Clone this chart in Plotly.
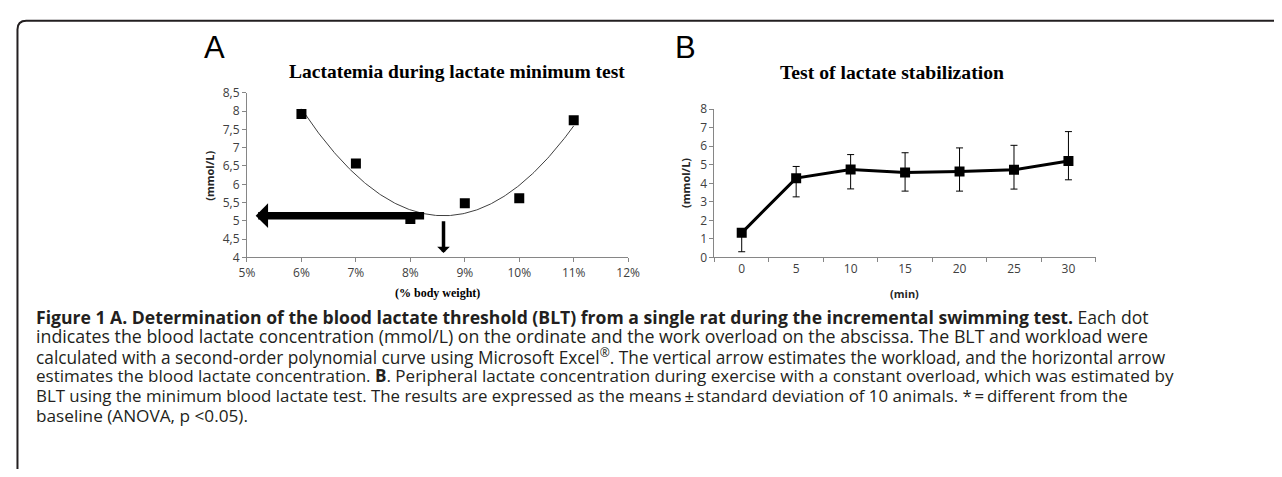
import numpy as np
import plotly.graph_objects as go

# The page body keeps its default 8 px margin, so the figure is sized to
# fill the 1282x477 window exactly; all positions below are window pixels.
PAGE_W, PAGE_H = 1282, 477
BODY = 8
W, H = PAGE_W - 2 * BODY, PAGE_H - 2 * BODY

# ---------------- data ----------------
# Panel A: lactate minimum test (single rat)
workload_pct = [6, 7, 8, 9, 10, 11]
lactate_a = [7.92, 6.57, 5.05, 5.48, 5.62, 7.75]
h_arrow_tail_x = 8.28   # horizontal arrow from this workload ...
h_arrow_tip_x = 5.16    # ... to the ordinate
v_arrow_tail_y = 5.03   # vertical arrow from below the curve ...
v_arrow_tip_y = 4.12    # ... down to the abscissa

# Panel B: lactate stabilization test (mean +/- SD, n = 10)
time_min = ["0", "5", "10", "15", "20", "25", "30"]
lactate_b = [1.33, 4.28, 4.74, 4.59, 4.64, 4.73, 5.21]
err_plus = [0.0, 0.63, 0.81, 1.06, 1.27, 1.32, 1.58]
err_minus = [1.02, 1.01, 1.04, 1.01, 1.06, 1.04, 1.02]

caption_lines = [
    "<b>Figure 1 A. Determination of the blood lactate threshold (BLT) from a single rat during the incremental swimming test.</b> Each dot",
    "indicates the blood lactate concentration (mmol/L) on the ordinate and the work overload on the abscissa. The BLT and workload were",
    "calculated with a second-order polynomial curve using Microsoft Excel<sup>®</sup>. The vertical arrow estimates the workload, and the horizontal arrow",
    "estimates the blood lactate concentration. <b>B</b>. Peripheral lactate concentration during exercise with a constant overload, which was estimated by",
    "BLT using the minimum blood lactate test. The results are expressed as the means\u2009±\u2009standard deviation of 10 animals. *\u2009=\u2009different from the",
    "baseline (ANOVA, p &lt;0.05).",
]
caption_sizes = [17.6, 17.8, 17.3, 17.05, 16.85, 17.2]

# second-order polynomial trend line (as Excel does)
coef = np.polyfit(workload_pct, lactate_a, 2)
xf = np.linspace(min(workload_pct), max(workload_pct), 200)
yf = np.polyval(coef, xf)
x_min = -coef[1] / (2 * coef[0])
y_min = np.polyval(coef, x_min)

# ---------------- helpers ----------------
def px(x):
    return (x - BODY) / W

def py(y):
    return 1 - (y - BODY) / H

AX = "#868686"
TICKFONT = dict(family="Open Sans, Arial", size=12, color="#404040")

fig = go.Figure()

fig.add_trace(go.Scatter(x=xf, y=yf, mode="lines", line=dict(color="#404040", width=1),
                         xaxis="x", yaxis="y", hoverinfo="skip"))
fig.add_trace(go.Scatter(x=workload_pct, y=lactate_a, mode="markers",
                         marker=dict(symbol="square", size=10, color="black"),
                         xaxis="x", yaxis="y"))

fig.add_trace(go.Scatter(x=time_min, y=lactate_b, mode="lines+markers",
                         line=dict(color="black", width=3),
                         marker=dict(symbol="square", size=10, color="black"),
                         error_y=dict(type="data", symmetric=False, array=err_plus,
                                      arrayminus=err_minus, color="black", thickness=1, width=3.5),
                         xaxis="x2", yaxis="y2"))

axis_common = dict(showgrid=False, zeroline=False, showline=True, linecolor=AX, linewidth=1,
                   ticks="outside", ticklen=4, tickcolor=AX, tickfont=TICKFONT)

fig.update_layout(
    width=W, height=H, margin=dict(l=0, r=0, t=0, b=0),
    paper_bgcolor="white", plot_bgcolor="white", showlegend=False,
    separators=",.",
    xaxis=dict(domain=[px(242.7), px(630)], range=[5, 12], dtick=1, ticksuffix="%",
               anchor="y", **axis_common),
    yaxis=dict(domain=[py(257.7), py(86.7)], range=[4, 8.5], dtick=0.5,
               anchor="x", **axis_common),
    xaxis2=dict(domain=[px(717.7), px(1105)], type="category", range=[-0.5, 6.5],
                tickson="boundaries", anchor="y2", **axis_common),
    yaxis2=dict(domain=[py(257.7), py(103.7)], range=[0, 8], dtick=1,
                anchor="x2", **axis_common),
)

ann = []
# arrows in panel A, at the trend-line minimum
ann.append(dict(x=h_arrow_tip_x, y=y_min, ax=h_arrow_tail_x, ay=y_min, xref="x", yref="y",
                axref="x", ayref="y", text="", showarrow=True, arrowhead=1, arrowsize=0.55,
                arrowwidth=7.5, arrowcolor="black", standoff=0, startstandoff=0))
ann.append(dict(x=x_min, y=v_arrow_tip_y, ax=x_min, ay=v_arrow_tail_y, xref="x", yref="y",
                axref="x", ayref="y", text="", showarrow=True, arrowhead=1, arrowsize=0.6,
                arrowwidth=3.5, arrowcolor="black", standoff=0, startstandoff=0))

def txt(text, x, y, size, family, color="#231F20", xanchor="center", textangle=0, bold=False):
    ann.append(dict(text=("<b>%s</b>" % text) if bold else text, x=px(x), y=py(y),
                    xref="paper", yref="paper", showarrow=False, xanchor=xanchor,
                    yanchor="middle", textangle=textangle, borderpad=0,
                    font=dict(family=family, size=size, color=color)))

SERIF = "Liberation Serif, Times New Roman, serif"
SANS = "Liberation Sans, Arial, sans-serif"
# panel letters
txt("A", 210, 40, 31, SANS, color="black")
txt("B", 688, 40, 31, SANS, color="black")
# panel titles
txt("Lactatemia during lactate minimum test", 456, 65, 19.5, SERIF, color="black", bold=True)
txt("Test of lactate stabilization", 898, 65, 19.7, SERIF, color="black", bold=True)
# axis titles
txt("(% body weight)", 436, 295, 12, SERIF, color="black", bold=True)
txt("(mmol/L)", 205, 173, 11, "Open Sans, Arial", color="#262626", textangle=-90, bold=True)
txt("(min)", 911, 295, 11, "Open Sans, Arial", color="#262626", bold=True)
txt("(mmol/L)", 688, 180, 11, "Open Sans, Arial", color="#262626", textangle=-90, bold=True)

# caption
for i, (line, size) in enumerate(zip(caption_lines, caption_sizes)):
    txt(line, 27, 319 + 20.5 * i, size, "Open Sans, Noto Sans, sans-serif", xanchor="left")

fig.update_layout(annotations=ann)

# frame (rounded top-left corner)
r = 9
path = "M %f,%f L %f,%f Q %f,%f %f,%f L %f,%f" % (
    px(1300), py(12), px(9.5 + r), py(12), px(9.5), py(12), px(9.5), py(12 + r), px(9.5), py(480))
fig.add_shape(type="path", path=path, xref="paper", yref="paper",
              line=dict(color="#231F20", width=2))

fig.write_html("out.html", config={"displayModeBar": False})
